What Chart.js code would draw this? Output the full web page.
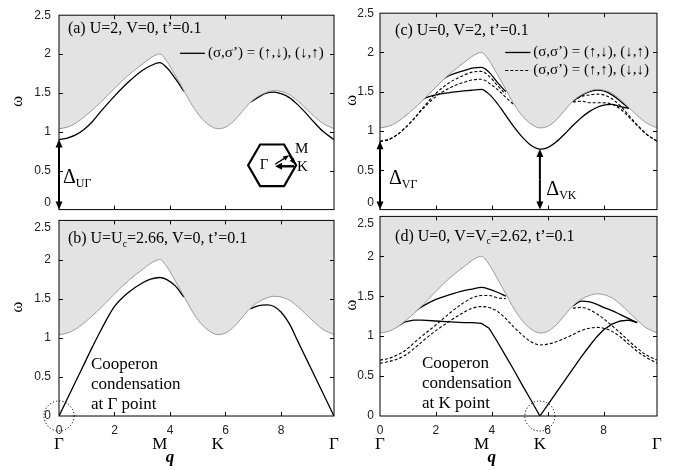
<!DOCTYPE html>
<html>
<head>
<meta charset="utf-8">
<script src="https://cdn.jsdelivr.net/npm/chart.js@4.4.0/dist/chart.umd.min.js"></script>
<style>
  body { margin: 0; background: #fff; }
  #fig { position: relative; width: 684px; height: 470px; overflow: hidden; }
  #fig canvas { position: absolute; }
</style>
</head>
<body>
<div id="fig">
  <canvas id="cA" width="342" height="232" style="left:0;top:0"></canvas>
  <canvas id="cC" width="342" height="230" style="left:342px;top:0"></canvas>
  <canvas id="cB" width="342" height="272" style="left:0;top:198px"></canvas>
  <canvas id="cD" width="342" height="274" style="left:342px;top:196px"></canvas>
</div>
<script>
const Q_MAX = 9.91;
const symQ = [0, 3.63, 5.72, 9.91];
const symLabels = ['Γ', 'M', 'K', 'Γ'];

const qGrid = [0, 0.3, 0.6, 0.9, 1.2, 1.5, 2.0, 2.5, 3.0, 3.3, 3.63, 3.9, 4.2, 4.5, 4.8, 5.1,
               5.4, 5.72, 6.0, 6.3, 6.6, 6.9, 7.2, 7.5, 7.75, 8.0, 8.3, 8.6, 8.9, 9.2, 9.5, 9.91];

// lower edge of the two-particle continuum (same in all panels)
const continuum = [1.04, 1.06, 1.11, 1.19, 1.28, 1.38, 1.56, 1.73, 1.87, 1.95, 2.00, 1.90, 1.72, 1.53, 1.34, 1.19,
                   1.09, 1.04, 1.06, 1.14, 1.26, 1.38, 1.46, 1.51, 1.53, 1.52, 1.48, 1.40, 1.30, 1.20, 1.11, 1.04];

// (a) U=2, V=0
const boundA = [0.90, 0.92, 0.96, 1.03, 1.13, 1.26, 1.46, 1.64, 1.79, 1.85, 1.89, 1.82, 1.68, 1.52, null, null,
                null, null, null, null, null, 1.38, 1.45, 1.50, 1.51, 1.49, 1.44, 1.35, 1.24, 1.12, 1.01, 0.90];

// (b) U=Uc
const boundB = [0, 0.22, 0.44, 0.66, 0.88, 1.09, 1.40, 1.58, 1.70, 1.75, 1.77, 1.74, 1.66, 1.52, null, null,
                null, null, null, null, null, 1.37, 1.41, 1.42, 1.40, 1.33, 1.18, 0.96, 0.74, 0.52, 0.30, 0];

// (c) U=0, V=2
const solidC1 = [null, null, null, 1.20, 1.33, 1.46, 1.60, 1.71, 1.77, 1.80, 1.81, 1.75, 1.62, 1.50, null, null,
                 null, null, null, null, null, 1.38, 1.45, 1.50, 1.52, 1.51, 1.46, 1.38, 1.29, null, null, null];
const solidC2 = [null, null, null, 1.20, 1.31, 1.40, 1.46, 1.49, 1.51, 1.52, 1.53, 1.47, 1.35, 1.20, 1.05, 0.92,
                 0.82, 0.77, 0.79, 0.86, 0.96, 1.07, 1.17, 1.25, 1.30, 1.33, 1.34, 1.31, 1.29, null, null, null];
const dashC1 = [0.87, 0.89, 0.95, 1.04, 1.15, 1.28, 1.48, 1.62, 1.71, 1.75, 1.76, 1.70, 1.58, 1.47, null, null,
                null, null, null, null, null, 1.38, 1.44, 1.46, 1.47, 1.46, 1.41, 1.32, 1.20, 1.08, 0.97, 0.87];
const dashC2 = [0.87, 0.89, 0.95, 1.04, 1.15, 1.27, 1.44, 1.55, 1.62, 1.65, 1.66, 1.61, 1.53, 1.43, 1.33, null,
                null, null, null, null, null, 1.37, 1.38, 1.36, 1.36, 1.36, 1.34, 1.28, 1.18, 1.07, 0.97, 0.87];

// (d) U=0, V=Vc
const solidD1 = [null, null, 1.12, 1.22, 1.30, 1.37, 1.46, 1.52, 1.57, 1.59, 1.61, 1.59, 1.55, 1.50, null, null,
                 null, null, null, null, null, 1.38, 1.44, 1.43, 1.40, 1.36, 1.32, 1.27, 1.22, 1.17, null, null];
const solidD2 = [null, null, 1.12, 1.18, 1.20, 1.20, 1.19, 1.18, 1.17, 1.17, 1.16, 1.10, 0.93, 0.75, 0.57, 0.38,
                 0.20, 0, 0.14, 0.29, 0.44, 0.59, 0.74, 0.88, 0.99, 1.08, 1.15, 1.19, 1.20, 1.17, null, null];
const dashD1 = [0.70, 0.72, 0.76, 0.82, 0.91, 1.00, 1.14, 1.29, 1.42, 1.48, 1.51, 1.51, 1.48, 1.47, null, null,
                null, null, null, null, null, 1.35, 1.36, 1.33, 1.28, 1.22, 1.13, 1.04, 0.94, 0.85, 0.77, 0.70];
const dashD2 = [0.66, 0.68, 0.71, 0.76, 0.84, 0.93, 1.07, 1.19, 1.30, 1.35, 1.37, 1.36, 1.31, 1.22, 1.11, 1.01,
                0.93, 0.89, 0.90, 0.93, 0.97, 1.02, 1.07, 1.10, 1.11, 1.10, 1.06, 0.99, 0.90, 0.81, 0.74, 0.66];

const SERIF = "'Liberation Serif', 'Times New Roman', serif";
const SANS = "'Liberation Sans', Arial, sans-serif";
const K_IDX = qGrid.indexOf(5.72);

function pts(values) {
    return qGrid.map((q, i) => ({ x: q, y: values[i] }));
}

function edgeSet() {
    return {
        data: pts(continuum), borderColor: '#858585', borderWidth: 0.8,
        backgroundColor: '#e3e3e3', fill: 'end', pointRadius: 0,
        cubicInterpolationMode: 'monotone'
    };
}

function curve(values, dashed, straight) {
    const ds = {
        data: pts(values), borderColor: '#000', borderWidth: dashed ? 1.1 : 1.3,
        fill: false, pointRadius: 0, spanGaps: false
    };
    if (dashed) ds.borderDash = [3, 2];
    if (straight) ds.tension = 0;
    else ds.cubicInterpolationMode = 'monotone';
    return ds;
}

// ---- drawing helpers for the annotations ----
function txt(ctx, s, x, y, size, align) {
    ctx.font = size + 'px ' + SERIF;
    ctx.textAlign = align || 'left';
    ctx.textBaseline = 'middle';
    ctx.fillStyle = '#000';
    ctx.fillText(s, x, y);
    return ctx.measureText(s).width;
}

// pieces: [text, isSubscript]
function rich(ctx, pieces, x, y, size) {
    let cx = x;
    pieces.forEach(([s, sub]) => {
        cx += sub ? txt(ctx, s, cx, y + size * 0.3, size * 0.6) : txt(ctx, s, cx, y, size);
    });
}

function head(ctx, x0, y0, x1, y1, len, half) {
    const a = Math.atan2(y1 - y0, x1 - x0);
    ctx.beginPath();
    ctx.moveTo(x1, y1);
    ctx.lineTo(x1 - len * Math.cos(a) + half * Math.sin(a), y1 - len * Math.sin(a) - half * Math.cos(a));
    ctx.lineTo(x1 - len * Math.cos(a) - half * Math.sin(a), y1 - len * Math.sin(a) + half * Math.cos(a));
    ctx.closePath();
    ctx.fill();
}

function arrow(ctx, x0, y0, x1, y1, w, len, half) {
    const a = Math.atan2(y1 - y0, x1 - x0);
    ctx.lineWidth = w;
    ctx.beginPath();
    ctx.moveTo(x0, y0);
    ctx.lineTo(x1 - len * 0.8 * Math.cos(a), y1 - len * 0.8 * Math.sin(a));
    ctx.stroke();
    head(ctx, x0, y0, x1, y1, len, half);
}

function gapArrow(ctx, x, yBottom, yTop) {
    const mid = (yBottom + yTop) / 2;
    arrow(ctx, x, mid, x, yTop, 2, 8, 3.5);
    arrow(ctx, x, mid, x, yBottom, 2, 8, 3.5);
}

function dottedCircle(ctx, x, y, r) {
    ctx.save();
    ctx.setLineDash([1.2, 2]);
    ctx.lineWidth = 1;
    ctx.beginPath();
    ctx.arc(x, y, r, 0, Math.PI * 2);
    ctx.stroke();
    ctx.restore();
}

function legendRow(ctx, X, Y, q0, q1, w, dashed) {
    ctx.save();
    if (dashed) ctx.setLineDash([3, 2]);
    ctx.lineWidth = dashed ? 1.1 : 1.3;
    ctx.beginPath();
    ctx.moveTo(X(q0), Y(w));
    ctx.lineTo(X(q1), Y(w));
    ctx.stroke();
    ctx.restore();
}

function cooperon(ctx, x, y, where) {
    ['Cooperon', 'condensation', 'at ' + where + ' point'].forEach((s, i) => txt(ctx, s, x, y + i * 20, 17));
}

// Brillouin-zone inset of panel (a)
function hexInset(ctx, cx, cy) {
    const r = 24;
    ctx.lineWidth = 2.2;
    ctx.beginPath();
    for (let k = 0; k < 6; k++) {
        const a = k * Math.PI / 3;
        const px = cx + r * Math.cos(a), py = cy - r * Math.sin(a);
        if (k === 0) ctx.moveTo(px, py); else ctx.lineTo(px, py);
    }
    ctx.closePath();
    ctx.stroke();
    arrow(ctx, cx + 3, cy - 1, cx + 17, cy - 10, 1.3, 6, 2.5);
    arrow(ctx, cx + 17, cy - 10, cx + 23, cy - 1, 1.3, 6, 2.5);
    arrow(ctx, cx + 22, cy + 1, cx + 3, cy + 1, 2.4, 7, 3.5);
    txt(ctx, 'Γ', cx - 8, cy, 15, 'center');
    txt(ctx, 'M', cx + 23, cy - 16, 15);
    txt(ctx, 'K', cx + 25, cy + 2, 15);
}

const notes = {
    cA: {
        omegaX: 18,
        draw(ctx, X, Y) {
            txt(ctx, '(a) U=2, V=0, t’=0.1', X(0.32), Y(2.32), 16);
            legendRow(ctx, X, Y, 4.36, 5.26, 2.01, false);
            txt(ctx, '(σ,σ’) = (↑,↓), (↓,↑)', X(5.37), Y(2.01), 15);
            gapArrow(ctx, X(0), Y(0), Y(boundA[0]));
            rich(ctx, [['Δ', false], ['UΓ', true]], X(0.14), Y(0.41), 20);
            hexInset(ctx, X(7.68), Y(0.57));
        }
    },
    cB: {
        omegaX: 18,
        draw(ctx, X, Y) {
            rich(ctx, [['(b) U=U', false], ['c', true], ['=2.66, V=0, t’=0.1', false]], X(0.32), Y(2.26), 16);
            dottedCircle(ctx, X(0), Y(0), 15);
            cooperon(ctx, X(1.15), Y(0.66), 'Γ');
        }
    },
    cC: {
        omegaX: 10,
        draw(ctx, X, Y) {
            txt(ctx, '(c) U=0, V=2, t’=0.1', X(0.54), Y(2.28), 16);
            legendRow(ctx, X, Y, 4.48, 5.38, 2.0, false);
            txt(ctx, '(σ,σ’) = (↑,↓), (↓,↑)', X(5.48), Y(2.0), 15);
            legendRow(ctx, X, Y, 4.48, 5.38, 1.77, true);
            txt(ctx, '(σ,σ’) = (↑,↑), (↓,↓)', X(5.48), Y(1.77), 15);
            gapArrow(ctx, X(0), Y(0), Y(dashC1[0]));
            rich(ctx, [['Δ', false], ['VΓ', true]], X(0.32), Y(0.39), 20);
            gapArrow(ctx, X(5.72), Y(0), Y(solidC2[K_IDX]));
            rich(ctx, [['Δ', false], ['VK', true]], X(5.95), Y(0.25), 20);
        }
    },
    cD: {
        omegaX: 10,
        draw(ctx, X, Y) {
            rich(ctx, [['(d) U=0, V=V', false], ['c', true], ['=2.62, t’=0.1', false]], X(0.54), Y(2.24), 16);
            dottedCircle(ctx, X(5.72), Y(0), 15);
            cooperon(ctx, X(1.5), Y(0.66), 'K');
        }
    }
};

// frame, inward ticks, rotated ω label and the per-panel notes
const decor = {
    id: 'decor',
    afterDraw(chart) {
        const n = notes[chart.canvas.id];
        const { ctx, chartArea: a, scales } = chart;
        const X = v => scales.x.getPixelForValue(v);
        const Y = v => scales.y.getPixelForValue(v);
        ctx.save();
        ctx.strokeStyle = '#000';
        ctx.fillStyle = '#000';
        ctx.lineWidth = 1;
        ctx.strokeRect(a.left, a.top, a.width, a.height);
        ctx.beginPath();
        scales.x.ticks.forEach(t => {
            if (t.value <= 0) return;
            const px = Math.round(X(t.value)) + 0.5;
            ctx.moveTo(px, a.top); ctx.lineTo(px, a.top + 4);
            ctx.moveTo(px, a.bottom); ctx.lineTo(px, a.bottom - 4);
        });
        scales.y.ticks.forEach(t => {
            if (t.value <= 0 || t.value >= 2.5) return;
            const py = Math.round(Y(t.value)) + 0.5;
            ctx.moveTo(a.left, py); ctx.lineTo(a.left + 4, py);
            ctx.moveTo(a.right, py); ctx.lineTo(a.right - 4, py);
        });
        ctx.stroke();

        ctx.save();
        ctx.translate(n.omegaX, (a.top + a.bottom) / 2 - 11);
        ctx.rotate(-Math.PI / 2);
        txt(ctx, 'ω', 0, 0, 17, 'center');
        ctx.restore();

        if (scales.xs) {
            ctx.font = 'bold italic 17px ' + SERIF;
            ctx.textAlign = 'center';
            ctx.textBaseline = 'middle';
            ctx.fillText('q', X(4.0), a.bottom + 42);
        }
        n.draw(ctx, X, Y);
        ctx.restore();
    }
};

function makePanel(id, datasets, lay) {
    const scales = {
        x: {
            type: 'linear', min: 0, max: Q_MAX, position: 'bottom',
            grid: { display: false, drawTicks: false }, border: { display: false },
            ticks: {
                display: lay.bottom, stepSize: 2, includeBounds: false, autoSkip: false, maxRotation: 0,
                padding: 7, color: '#222', font: { family: SANS, size: 12 }
            },
            afterFit: s => { s.height = 18; }
        },
        y: {
            min: 0, max: 2.5,
            grid: { display: false, drawTicks: false }, border: { display: false },
            ticks: {
                stepSize: 0.5, padding: lay.tickPad, color: '#222', font: { family: SANS, size: 12 },
                // nudge the labels that meet at the shared border between stacked panels
                callback: v => (!lay.bottom && v === 0) ? ['0', ''] : ((lay.bottom && v === 2.5) ? ['', '2.5'] : String(v))
            },
            afterFit: s => { s.width = lay.yWidth; }
        }
    };
    if (lay.bottom) {
        scales.xs = {
            type: 'linear', min: 0, max: Q_MAX, position: 'bottom', weight: 1,
            grid: { display: false, drawTicks: false }, border: { display: false },
            afterBuildTicks: s => { s.ticks = symQ.map(v => ({ value: v })); },
            ticks: {
                autoSkip: false, maxRotation: 0, padding: 0, color: '#000',
                font: { family: SERIF, size: 17 },
                callback: (v, i) => symLabels[i]
            },
            afterFit: s => { s.height = 36; }
        };
    }
    return new Chart(document.getElementById(id), {
        type: 'line',
        data: { datasets },
        options: {
            responsive: false,
            animation: false,
            events: [],
            layout: { padding: { top: lay.padTop, right: lay.padRight, left: 0, bottom: 0 } },
            plugins: { legend: { display: false }, tooltip: { enabled: false } },
            scales
        },
        plugins: [decor]
    });
}

makePanel('cA', [edgeSet(), curve(boundA)],
    { bottom: false, padTop: 9, padRight: 8, yWidth: 59, tickPad: 8 });
makePanel('cB', [edgeSet(), curve(boundB)],
    { bottom: true, padTop: 16, padRight: 8, yWidth: 59, tickPad: 8 });
makePanel('cC', [edgeSet(), curve(solidC1), curve(solidC2), curve(dashC1, true), curve(dashC2, true)],
    { bottom: false, padTop: 9, padRight: 27, yWidth: 38, tickPad: 6 });
makePanel('cD', [edgeSet(), curve(solidD1), curve(solidD2, false, true), curve(dashD1, true), curve(dashD2, true)],
    { bottom: true, padTop: 16, padRight: 27, yWidth: 38, tickPad: 6 });
</script>
</body>
</html>
